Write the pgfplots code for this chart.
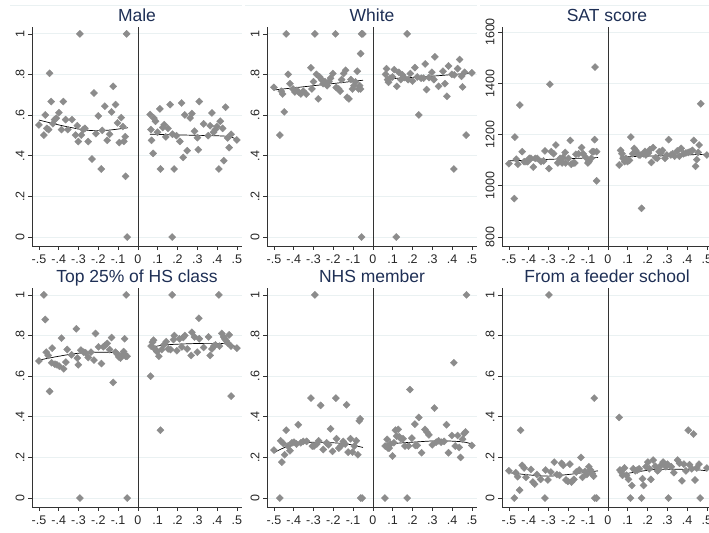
\documentclass[border=0pt]{standalone}
\usepackage{fontspec}
\setmainfont{Liberation Sans}
\usepackage{pgfplots}
\usepackage{pgfplotstable}
\pgfplotsset{compat=1.18}
\definecolor{titlec}{HTML}{1E2F55}
\definecolor{markc}{HTML}{8C8C8C}
\definecolor{gridc}{HTML}{EAF1F2}
\definecolor{axisc}{HTML}{333333}

% ---------------- data ----------------
\pgfplotstableread{
x y
-0.500 0.552
-0.475 0.502
-0.468 0.601
-0.460 0.535
-0.451 0.529
-0.446 0.806
-0.438 0.667
-0.429 0.558
-0.421 0.578
-0.412 0.585
-0.399 0.612
-0.386 0.529
-0.377 0.667
-0.365 0.578
-0.354 0.529
-0.333 0.578
-0.315 0.502
-0.306 0.548
-0.301 0.470
-0.293 1.000
-0.286 0.502
-0.276 0.529
-0.268 0.535
-0.251 0.470
-0.232 0.384
-0.222 0.709
-0.212 0.509
-0.200 0.596
-0.185 0.335
-0.180 0.525
-0.167 0.644
-0.155 0.476
-0.143 0.506
-0.133 0.616
-0.125 0.742
-0.113 0.652
-0.103 0.562
-0.094 0.465
-0.084 0.588
-0.076 0.544
-0.071 0.471
-0.064 0.494
-0.062 0.299
-0.057 1.000
-0.054 0.000
0.062 0.603
0.066 0.529
0.069 0.476
0.077 0.412
0.081 0.585
0.089 0.570
0.099 0.516
0.111 0.631
0.114 0.335
0.125 0.539
0.133 0.553
0.141 0.493
0.152 0.535
0.163 0.652
0.173 0.000
0.175 0.506
0.183 0.335
0.195 0.499
0.212 0.471
0.221 0.660
0.229 0.392
0.237 0.601
0.249 0.425
0.264 0.586
0.273 0.608
0.286 0.521
0.301 0.489
0.305 0.430
0.310 0.667
0.332 0.557
0.355 0.499
0.365 0.548
0.374 0.611
0.382 0.516
0.391 0.529
0.399 0.544
0.409 0.335
0.416 0.570
0.428 0.535
0.434 0.376
0.443 0.639
0.453 0.488
0.461 0.440
0.471 0.506
0.500 0.478
}\dmale

\pgfplotstableread{
x y
-0.500 0.737
-0.470 0.502
-0.463 0.718
-0.456 0.704
-0.448 0.616
-0.438 1.000
-0.428 0.801
-0.419 0.755
-0.404 0.729
-0.394 0.714
-0.384 0.722
-0.374 0.713
-0.364 0.704
-0.352 0.718
-0.337 0.704
-0.313 0.833
-0.308 0.729
-0.300 0.765
-0.293 1.000
-0.285 0.801
-0.276 0.680
-0.269 0.788
-0.259 0.775
-0.251 0.755
-0.242 0.765
-0.231 0.745
-0.222 0.765
-0.214 0.782
-0.202 0.805
-0.189 1.000
-0.185 0.736
-0.173 0.729
-0.165 0.718
-0.158 0.775
-0.148 0.805
-0.138 0.821
-0.130 0.688
-0.121 0.680
-0.111 0.775
-0.103 0.729
-0.096 0.745
-0.088 0.764
-0.079 0.816
-0.072 0.729
-0.067 0.745
-0.062 0.903
-0.062 0.729
-0.057 1.000
-0.051 1.000
-0.057 0.000
0.064 0.801
0.069 0.829
0.074 0.775
0.079 0.762
0.086 0.782
0.099 0.788
0.108 0.824
0.118 0.000
0.121 0.742
0.131 0.811
0.141 0.775
0.150 0.798
0.158 0.785
0.173 1.000
0.178 0.775
0.189 0.805
0.200 0.768
0.212 0.834
0.224 0.788
0.232 0.601
0.244 0.782
0.256 0.782
0.264 0.852
0.271 0.726
0.283 0.785
0.298 0.811
0.308 0.775
0.313 0.887
0.332 0.742
0.354 0.816
0.364 0.755
0.374 0.693
0.382 0.842
0.399 0.801
0.409 0.335
0.411 0.798
0.428 0.829
0.438 0.874
0.448 0.791
0.453 0.739
0.463 0.811
0.471 0.502
0.500 0.808
}\dwhite

\pgfplotstableread{
x y
-0.500 1086
-0.473 950
-0.470 1190
-0.463 1104
-0.455 1084
-0.445 1315
-0.433 1133
-0.423 1094
-0.414 1094
-0.406 1094
-0.397 1107
-0.389 1107
-0.377 1073
-0.367 1107
-0.357 1107
-0.338 1094
-0.325 1097
-0.318 1136
-0.298 1067
-0.293 1396
-0.286 1133
-0.274 1125
-0.263 1159
-0.253 1089
-0.241 1107
-0.231 1089
-0.227 1110
-0.216 1130
-0.214 1089
-0.199 1107
-0.190 1177
-0.185 1084
-0.175 1089
-0.167 1089
-0.162 1123
-0.148 1125
-0.133 1149
-0.126 1125
-0.111 1110
-0.101 1089
-0.096 1094
-0.084 1107
-0.079 1133
-0.072 1133
-0.067 1180
-0.065 1463
-0.057 1133
-0.057 1019
0.057 1081
0.064 1138
0.071 1125
0.077 1107
0.084 1094
0.091 1107
0.099 1094
0.109 1099
0.116 1190
0.125 1125
0.133 1146
0.141 1138
0.146 1128
0.155 1121
0.162 1120
0.170 912
0.180 1125
0.187 1134
0.192 1120
0.205 1128
0.212 1141
0.220 1091
0.229 1149
0.241 1110
0.249 1107
0.259 1133
0.268 1128
0.276 1138
0.288 1107
0.298 1120
0.307 1180
0.318 1120
0.327 1125
0.337 1115
0.350 1136
0.361 1115
0.370 1146
0.382 1125
0.394 1128
0.406 1130
0.416 1133
0.427 1138
0.434 1177
0.443 1076
0.449 1102
0.456 1130
0.461 1159
0.469 1320
0.500 1120
}\dsat

\pgfplotstableread{
x y
-0.500 0.675
-0.475 1.000
-0.468 0.879
-0.463 0.718
-0.453 0.702
-0.446 0.525
-0.436 0.666
-0.433 0.738
-0.419 0.659
-0.409 0.656
-0.397 0.649
-0.386 0.787
-0.375 0.636
-0.364 0.669
-0.357 0.731
-0.335 0.705
-0.311 0.833
-0.306 0.689
-0.301 0.656
-0.293 0.000
-0.288 0.728
-0.274 0.718
-0.264 0.715
-0.251 0.692
-0.237 0.718
-0.222 0.679
-0.214 0.810
-0.199 0.744
-0.184 0.662
-0.175 0.744
-0.167 0.751
-0.155 0.761
-0.143 0.731
-0.133 0.790
-0.125 0.569
-0.113 0.718
-0.104 0.708
-0.096 0.695
-0.088 0.689
-0.079 0.702
-0.072 0.721
-0.067 0.784
-0.062 0.698
-0.059 1.000
-0.055 0.698
-0.054 0.000
0.064 0.600
0.067 0.748
0.074 0.767
0.079 0.777
0.086 0.734
0.096 0.721
0.106 0.698
0.114 0.334
0.120 0.731
0.131 0.754
0.143 0.770
0.153 0.734
0.165 0.731
0.173 1.000
0.180 0.780
0.184 0.800
0.197 0.725
0.210 0.784
0.222 0.744
0.229 0.790
0.237 0.800
0.249 0.734
0.269 0.702
0.273 0.816
0.286 0.793
0.300 0.718
0.308 0.885
0.310 0.784
0.332 0.741
0.357 0.793
0.365 0.702
0.374 0.734
0.384 0.748
0.392 0.754
0.409 1.000
0.412 0.748
0.424 0.810
0.433 0.793
0.439 0.784
0.446 0.774
0.453 0.764
0.461 0.803
0.470 0.748
0.471 0.502
0.500 0.738
}\dtopq

\pgfplotstableread{
x y
-0.500 0.236
-0.470 0.000
-0.466 0.282
-0.460 0.177
-0.453 0.269
-0.446 0.213
-0.438 0.334
-0.429 0.256
-0.419 0.233
-0.409 0.272
-0.399 0.275
-0.386 0.266
-0.377 0.361
-0.364 0.272
-0.352 0.279
-0.335 0.279
-0.313 0.492
-0.306 0.256
-0.298 0.256
-0.293 1.000
-0.283 0.266
-0.274 0.282
-0.264 0.456
-0.251 0.239
-0.234 0.272
-0.224 0.262
-0.214 0.341
-0.204 0.230
-0.187 0.492
-0.184 0.292
-0.172 0.246
-0.162 0.256
-0.150 0.279
-0.140 0.266
-0.133 0.459
-0.125 0.226
-0.113 0.292
-0.103 0.226
-0.094 0.256
-0.084 0.282
-0.076 0.213
-0.069 0.380
-0.064 0.390
-0.062 0.000
-0.054 0.000
0.061 0.000
0.062 0.256
0.072 0.289
0.076 0.246
0.082 0.246
0.089 0.266
0.099 0.207
0.106 0.272
0.114 0.334
0.120 0.305
0.128 0.338
0.133 0.302
0.141 0.292
0.152 0.292
0.162 0.256
0.173 0.000
0.180 0.256
0.187 0.534
0.197 0.295
0.212 0.364
0.215 0.259
0.224 0.259
0.232 0.397
0.246 0.223
0.263 0.338
0.273 0.325
0.283 0.311
0.300 0.262
0.311 0.443
0.320 0.275
0.332 0.282
0.345 0.275
0.360 0.279
0.372 0.361
0.382 0.223
0.399 0.308
0.409 0.666
0.416 0.256
0.428 0.308
0.436 0.249
0.443 0.200
0.453 0.289
0.461 0.318
0.468 0.325
0.473 1.000
0.500 0.259
}\dnhs

\pgfplotstableread{
x y
-0.500 0.134
-0.473 0.000
-0.466 0.125
-0.456 0.105
-0.446 0.039
-0.441 0.334
-0.433 0.161
-0.423 0.148
-0.414 0.102
-0.389 0.141
-0.379 0.079
-0.370 0.069
-0.359 0.116
-0.340 0.092
-0.318 0.000
-0.315 0.138
-0.303 0.089
-0.298 1.000
-0.288 0.128
-0.271 0.177
-0.258 0.116
-0.244 0.112
-0.234 0.171
-0.226 0.161
-0.212 0.089
-0.202 0.082
-0.192 0.167
-0.184 0.079
-0.172 0.092
-0.160 0.128
-0.145 0.138
-0.136 0.200
-0.128 0.102
-0.116 0.131
-0.106 0.116
-0.096 0.154
-0.088 0.138
-0.079 0.121
-0.072 0.108
-0.069 0.492
-0.066 0.000
-0.057 0.000
0.057 0.397
0.061 0.138
0.067 0.128
0.074 0.112
0.084 0.148
0.094 0.112
0.104 0.092
0.114 0.000
0.121 0.062
0.128 0.144
0.138 0.134
0.148 0.138
0.158 0.144
0.170 0.000
0.175 0.095
0.180 0.062
0.192 0.154
0.202 0.177
0.209 0.144
0.217 0.092
0.229 0.187
0.239 0.157
0.251 0.134
0.256 0.138
0.268 0.161
0.279 0.177
0.293 0.154
0.301 0.167
0.306 0.000
0.320 0.154
0.333 0.125
0.352 0.187
0.362 0.171
0.374 0.085
0.384 0.167
0.394 0.134
0.406 0.334
0.412 0.164
0.424 0.144
0.433 0.315
0.440 0.089
0.449 0.148
0.460 0.167
0.466 0.000
0.500 0.148
}\dfeeder

\tikzset{zl/.style={axisc, line width=0.7pt}}
\pgfplotsset{
  panel/.style={
    scale only axis, width=210bp, height=219bp,
    xmin=-0.535, xmax=0.526,
    ymin=-0.044, ymax=1.034,
    axis x line*=bottom, axis y line*=left,
    axis line style={axisc, line width=0.7pt},
    tick style={axisc, line width=0.7pt},
    tick align=outside, major tick length=4bp,
    xtick={-0.5,-0.4,-0.3,-0.2,-0.1,0,0.1,0.2,0.3,0.4,0.5},
    xticklabels={-.5,-.4,-.3,-.2,-.1,0,.1,.2,.3,.4,.5},
    ytick={0,0.2,0.4,0.6,0.8,1},
    yticklabels={0,.2,.4,.6,.8,1},
    ymajorgrids, grid style={gridc, line width=0.8pt},
    ticklabel style={font=\fontsize{12.5bp}{14bp}\selectfont, text=black!85},
    xticklabel style={yshift=-1bp},
    yticklabel style={rotate=90, anchor=south, xshift=0bp},
    every axis title shift=0pt,
    title style={font=\fontsize{17.5bp}{20bp}\selectfont, text=titlec,
                 at={(0.5,1)}, anchor=base, yshift=5.5bp},
    clip=false,
  },
  pts/.style={only marks, mark=square*, mark size=2.5bp, markc,
              mark options={rotate=45, draw=markc, fill=markc}},
  fit/.style={black, line width=0.7pt, smooth, no marks},
}

\begin{document}
\begin{tikzpicture}[x=1bp,y=1bp]
\path[use as bounding box] (0,0) rectangle (709,533);
\foreach \xx in {10,245,480} {\draw[gridc, line width=0.8pt] (\xx,528) -- ({\xx+232},528);}

% ---- Male ----
\begin{axis}[panel, at={(32bp,287bp)}, anchor=south west, title={Male}]
\draw[zl] (axis cs:0,-0.044) -- (axis cs:0,1.034);
\addplot[pts] table {\dmale};
\addplot[fit] coordinates {(-0.5,0.576) (-0.4,0.552) (-0.3,0.532) (-0.23,0.524) (-0.15,0.526) (-0.05,0.538)};
\addplot[fit] coordinates {(0.06,0.506) (0.24,0.502) (0.45,0.496) (0.5,0.478)};
\end{axis}

% ---- White ----
\begin{axis}[panel, at={(267bp,287bp)}, anchor=south west, title={White}]
\draw[zl] (axis cs:0,-0.044) -- (axis cs:0,1.034);
\addplot[pts] table {\dwhite};
\addplot[fit] coordinates {(-0.5,0.724) (-0.3,0.745) (-0.05,0.772)};
\addplot[fit] coordinates {(0.064,0.778) (0.3,0.792) (0.5,0.808)};
\end{axis}

% ---- SAT ----
\begin{axis}[panel, at={(502bp,287bp)}, anchor=south west, title={SAT score},
  ymin=765, ymax=1619.5, ytick={800,1000,1200,1400,1600},
  yticklabels={800,1000,1200,1400,1600}]
\draw[zl] (axis cs:0,765) -- (axis cs:0,1619.5);
\addplot[pts] table {\dsat};
\addplot[fit] coordinates {(-0.5,1097) (-0.3,1103) (-0.05,1110)};
\addplot[fit] coordinates {(0.06,1112) (0.3,1118) (0.5,1123)};
\end{axis}

% ---- Top 25% ----
\begin{axis}[panel, at={(32bp,26bp)}, anchor=south west, title={Top 25\% of HS class}]
\draw[zl] (axis cs:0,-0.044) -- (axis cs:0,1.034);
\addplot[pts] table {\dtopq};
\addplot[fit] coordinates {(-0.5,0.679) (-0.4,0.698) (-0.3,0.713) (-0.2,0.718) (-0.12,0.716) (-0.05,0.710)};
\addplot[fit] coordinates {(0.064,0.741) (0.14,0.754) (0.31,0.761) (0.45,0.759) (0.5,0.741)};
\end{axis}

% ---- NHS ----
\begin{axis}[panel, at={(267bp,26bp)}, anchor=south west, title={NHS member}]
\draw[zl] (axis cs:0,-0.044) -- (axis cs:0,1.034);
\addplot[pts] table {\dnhs};
\addplot[fit] coordinates {(-0.5,0.223) (-0.46,0.243) (-0.4,0.264) (-0.3,0.275) (-0.2,0.272) (-0.13,0.266) (-0.05,0.249)};
\addplot[fit] coordinates {(0.064,0.266) (0.2,0.275) (0.33,0.282) (0.45,0.277) (0.5,0.266)};
\end{axis}

% ---- Feeder ----
\begin{axis}[panel, at={(502bp,26bp)}, anchor=south west, title={From a feeder school}]
\draw[zl] (axis cs:0,-0.044) -- (axis cs:0,1.034);
\addplot[pts] table {\dfeeder};
\addplot[fit] coordinates {(-0.5,0.125) (-0.4,0.114) (-0.3,0.108) (-0.2,0.116) (-0.05,0.134)};
\addplot[fit] coordinates {(0.06,0.115) (0.14,0.128) (0.24,0.141) (0.34,0.142) (0.45,0.139) (0.5,0.134)};
\end{axis}
\end{tikzpicture}
\end{document}
